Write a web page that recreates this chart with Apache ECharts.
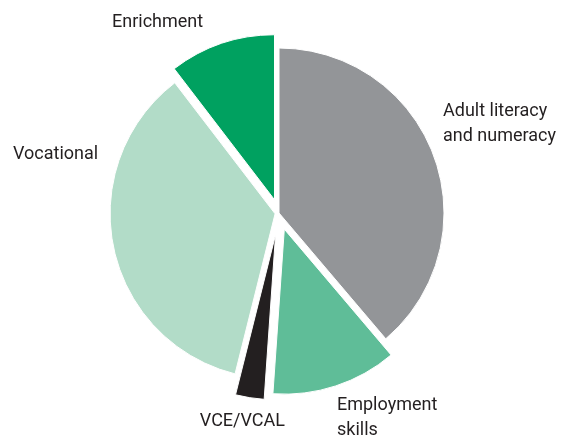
<!DOCTYPE html>
<html>
<head>
<meta charset="utf-8">
<style>
  html, body { margin: 0; padding: 0; background: #fff; }
  #chart { width: 570px; height: 440px; }
</style>
<script src="https://cdn.jsdelivr.net/npm/echarts@6/dist/echarts.min.js"></script>
</head>
<body>
<div id="chart"></div>
<script>
const categories = ['Adult literacy\nand numeracy', 'Employment\nskills', 'VCE/VCAL', 'Vocational', 'Enrichment'];
const values = [38.8, 12.3, 2.8, 35.7, 10.4];
const colors = ['#939598', '#5FBD98', '#231F20', '#B2DCC8', '#00A160'];
const offsets = [0, 17, 22, 4, 14];
// label anchor [x, y, align]
const labelPos = [[443, 123.5, 'left'], [337, 418, 'left'], [285, 421, 'right'], [13, 154, 'left'], [112, 22, 'left']];

const chart = echarts.init(document.getElementById('chart'), null, { renderer: 'canvas' });

const series = categories.map((_, k) => ({
  type: 'pie',
  center: [279, 213],
  radius: 165,
  startAngle: 90,
  clockwise: true,
  selectedMode: 'multiple',
  selectedOffset: offsets[k],
  silent: true,
  animation: false,
  avoidLabelOverlap: false,
  emphasis: { disabled: true },
  label: { show: false },
  labelLine: { show: false },
  data: categories.map((name, i) => ({
    name: name,
    value: values[i],
    selected: i === k && offsets[k] > 0,
    itemStyle: {
      color: i === k ? colors[i] : 'rgba(0,0,0,0)',
      borderColor: '#fff',
      borderWidth: i === k ? 1 : 0
    }
  }))
}));

const graphic = categories.map((name, i) => ({
  type: 'text',
  x: labelPos[i][0],
  y: labelPos[i][1],
  silent: true,
  style: {
    text: name,
    fill: '#231F20',
    fontFamily: 'Roboto',
    fontSize: 18,
    lineHeight: 25,
    align: labelPos[i][2],
    verticalAlign: 'middle'
  }
}));

chart.setOption({
  backgroundColor: '#fff',
  series: series,
  graphic: graphic
});
</script>
</body>
</html>
